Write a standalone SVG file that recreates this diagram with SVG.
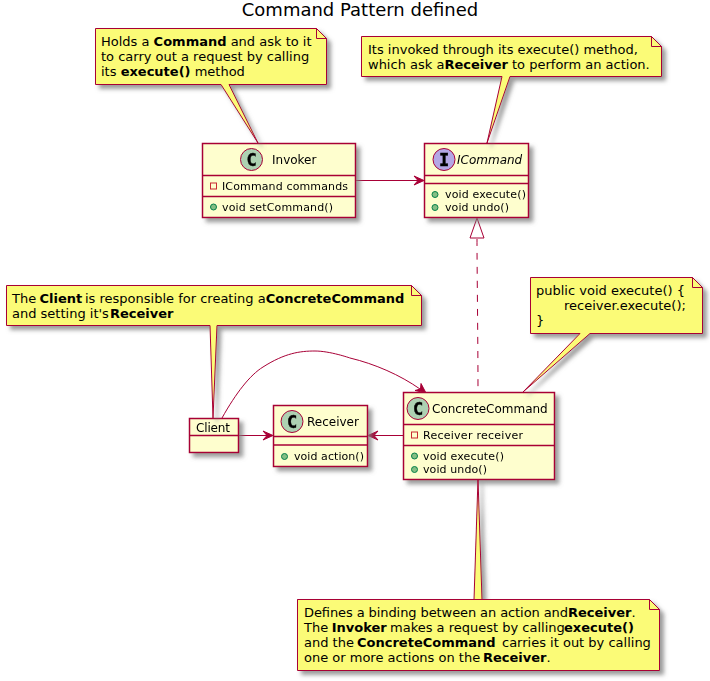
<svg xmlns="http://www.w3.org/2000/svg" width="710" height="681" viewBox="0 0 710 681">
<style>
text{font-family:"DejaVu Sans",sans-serif;fill:#000}
.title{font-size:18px}
.n{font-size:13px}
.h{font-size:12px}
.m{font-size:11px}
.b{font-weight:bold}
.i{font-style:italic}
.g{font-family:"DejaVu Sans Mono",monospace;font-weight:bold;font-size:17px;text-anchor:middle;stroke:#000;stroke-width:.4}
.box{fill:#FEFECE;stroke:#A80036;stroke-width:1.5}
.shadow{filter:url(#sh)}
.ln{fill:none;stroke:#A80036;stroke-width:1.5}
.note{fill:#FBFB77;stroke:#A80036;stroke-width:1}
.fold{fill:#FBFB77;stroke:#A80036;stroke-width:1}
.c{fill:#ADD1B2;stroke:#A80036;stroke-width:1}
.pub{fill:#84BE84;stroke:#038048;stroke-width:1}
.pri{fill:none;stroke:#C82930;stroke-width:1}
.conn{fill:none;stroke:#A80036;stroke-width:1}
.ah{fill:#A80036;stroke:#A80036;stroke-width:1}
</style>
<defs>
<filter id="sh" x="-20%" y="-20%" width="150%" height="150%"><feGaussianBlur in="SourceAlpha" stdDeviation="2"/><feOffset dx="4" dy="4"/><feColorMatrix values="0 0 0 0 0.2 0 0 0 0 0.2 0 0 0 0 0.2 0 0 0 0.75 0"/><feMerge><feMergeNode/><feMergeNode in="SourceGraphic"/></feMerge></filter>
</defs>
<text class="title" x="360" y="16" text-anchor="middle">Command Pattern defined</text>

<g id="connectors">
<path class="conn" d="M355.500 180.500H418"/><path class="ah" d="M424 180.500L414 176L418 180.500L414 185Z"/>
<path class="conn" d="M477 239C477 270 478 340 478 392" stroke-dasharray="7,7"/>
<path d="M477 218L470 238H484Z" fill="none" stroke="#A80036" stroke-width="1"/>
<path class="conn" d="M238.500 435.500H267"/><path class="ah" d="M273 435.500L263 431L267 435.500L263 440Z"/>
<path class="conn" d="M403.500 435.500H374"/><path class="ah" d="M368 435.500L378 431L374 435.500L378 440Z"/>
<path class="conn" d="M222 418C236 393 250 375 263 367C285 353 300 351 315 351C330 351 350 358 350 358C375 364 400 375 420 389"/><path class="ah" d="M426 393L421 383.500L420.500 389L415 390.500Z"/>
</g>

<g id="invoker" class="shadow">
<rect class="box" x="202.500" y="143.500" width="153" height="74"/>
<path class="ln" d="M202.500 175.500H355.500M202.500 196.500H355.500"/>
<circle class="c" cx="251.500" cy="159.500" r="11"/>
<text class="g" x="251.500" y="165.500">C</text>
<text class="h" x="272" y="164">Invoker</text>
<rect class="pri" x="210.500" y="183" width="6" height="6"/>
<text class="m" x="222" y="190" textLength="126">ICommand commands</text>
<circle class="pub" cx="213.500" cy="207" r="3"/>
<text class="m" x="222" y="211" textLength="111">void setCommand()</text>
</g>

<g id="icommand" class="shadow">
<rect class="box" x="424.500" y="143.500" width="104" height="74"/>
<path class="ln" d="M424.500 175.500H528.500M424.500 183.500H528.500"/>
<circle cx="444" cy="159.500" r="11" fill="#B4A7E5" stroke="#A80036"/>
<text class="g" x="444" y="165.500">I</text>
<text class="h i" x="457" y="164">ICommand</text>
<circle class="pub" cx="435" cy="194.500" r="3"/>
<text class="m" x="445" y="198" textLength="81">void execute()</text>
<circle class="pub" cx="435" cy="207.500" r="3"/>
<text class="m" x="445" y="211" textLength="64">void undo()</text>
</g>

<g id="client" class="shadow">
<rect class="box" x="189.500" y="418.500" width="49" height="34"/>
<path class="ln" d="M189.500 435.500H238.500"/>
<text class="h" x="196" y="432" textLength="34">Client</text>
</g>

<g id="receiver" class="shadow">
<rect class="box" x="273.500" y="405.500" width="94" height="61"/>
<path class="ln" d="M273.500 436.500H367.500M273.500 445H367.500"/>
<circle class="c" cx="292" cy="421.500" r="11"/>
<text class="g" x="292" y="427.500">C</text>
<text class="h" x="307" y="426">Receiver</text>
<circle class="pub" cx="284.500" cy="456.500" r="3"/>
<text class="m" x="294" y="460" textLength="70">void action()</text>
</g>

<g id="concretecommand" class="shadow">
<rect class="box" x="403.500" y="392.500" width="151" height="87"/>
<path class="ln" d="M403.500 424.500H554.500M403.500 445.500H554.500"/>
<circle class="c" cx="418" cy="408.500" r="11"/>
<text class="g" x="418" y="414.500">C</text>
<text class="h" x="432" y="413">ConcreteCommand</text>
<rect class="pri" x="411.500" y="432" width="6" height="6"/>
<text class="m" x="423" y="439" textLength="100">Receiver receiver</text>
<circle class="pub" cx="414.500" cy="456" r="3"/>
<text class="m" x="423" y="460" textLength="81">void execute()</text>
<circle class="pub" cx="414.500" cy="469.500" r="3"/>
<text class="m" x="423" y="473" textLength="64">void undo()</text>
</g>

<g id="note-invoker">
<path class="note shadow" d="M95.500 28.500H316.500L326.500 38.500V84.500H229L258 143L221 84.500H95.500Z"/>
<path class="fold" d="M316.500 28.500V38.500H326.500Z"/>
<text class="n" x="101" y="46">Holds a <tspan class="b">Command</tspan> and ask to it</text>
<text class="n" x="101" y="61">to carry out a request by calling</text>
<text class="n" x="101" y="76">its <tspan class="b">execute()</tspan> method</text>
</g>

<g id="note-icommand">
<path class="note shadow" d="M361.500 36.500H651.500L661.500 46.500V76.500H510L487 143L502 76.500H361.500Z"/>
<path class="fold" d="M651.500 36.500V46.500H661.500Z"/>
<text class="n" x="368" y="54">Its invoked through its execute() method,</text>
<text class="n" x="368" y="69">which ask a<tspan class="b">Receiver</tspan> to perform an action.</text>
</g>

<g id="note-client">
<path class="note shadow" d="M6.500 285.500H411.500L421.500 295.500V325.500H217L213 418L210 325.500H6.500Z"/>
<path class="fold" d="M411.500 285.500V295.500H421.500Z"/>
<text class="n" x="12" y="303">The <tspan class="b" x="39.500">Client</tspan> <tspan x="85">is responsible for creating a</tspan><tspan class="b" x="265.700">ConcreteCommand</tspan></text>
<text class="n" x="12" y="318">and setting it's<tspan class="b" x="110">Receiver</tspan></text>
</g>

<g id="note-execute">
<path class="note shadow" d="M530.500 277.500H692.500L702.500 287.500V333.500H590L523 392L580 333.500H530.500Z"/>
<path class="fold" d="M692.500 277.500V287.500H702.500Z"/>
<text class="n" x="536" y="295">public void execute() {</text>
<text class="n" x="564" y="310">receiver.execute();</text>
<text class="n" x="536" y="325">}</text>
</g>

<g id="note-concrete">
<path class="note shadow" d="M297.500 599.500H649.500L659.500 609.500V670.500H297.500V599.500H474L478 479L482 599.500"/>
<path class="fold" d="M649.500 599.500V609.500H659.500Z"/>
<text class="n" x="304" y="617"><tspan textLength="264">Defines a binding between an action and</tspan><tspan class="b" x="568">Receiver</tspan>.</text>
<text class="n" x="304" y="632">The <tspan class="b" x="331.700">Invoker</tspan> <tspan x="390">makes a request by calling</tspan><tspan class="b" x="564">execute()</tspan></text>
<text class="n" x="304" y="647">and the <tspan class="b" x="357">ConcreteCommand</tspan> <tspan x="502">carries it out by calling</tspan></text>
<text class="n" x="304" y="662">one or more actions on the <tspan class="b" x="483">Receiver</tspan>.</text>
</g>
</svg>
